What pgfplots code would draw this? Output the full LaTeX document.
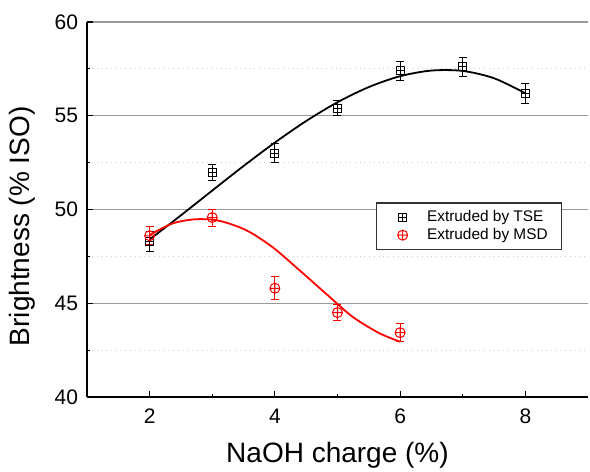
\documentclass[border=0pt]{standalone}
\usepackage{fontspec}
\setmainfont{Liberation Sans}
\usepackage{pgfplots}
\pgfplotsset{compat=1.18}
\usetikzlibrary{plotmarks}

% square with a plus inside
\pgfdeclareplotmark{boxplus}{%
  \pgfpathrectangle{\pgfpoint{-\pgfplotmarksize}{-\pgfplotmarksize}}{\pgfpoint{2\pgfplotmarksize}{2\pgfplotmarksize}}%
  \pgfpathmoveto{\pgfpoint{-\pgfplotmarksize}{0pt}}\pgfpathlineto{\pgfpoint{\pgfplotmarksize}{0pt}}%
  \pgfpathmoveto{\pgfpoint{0pt}{-\pgfplotmarksize}}\pgfpathlineto{\pgfpoint{0pt}{\pgfplotmarksize}}%
  \pgfusepathqstroke}

\begin{document}
\begin{tikzpicture}
\useasboundingbox (-43.5bp,-37.5bp) rectangle (251.5bp,198.5bp);
\begin{axis}[
  scale only axis, width=250.5bp, height=187.5bp,
  xmin=1, xmax=9, ymin=40, ymax=60,
  axis x line*=bottom, axis y line*=left,
  axis line style={line width=0.75bp, black},
  xtick={2,4,6,8}, minor xtick={3,5,7},
  ytick={40,45,50,55,60}, minor ytick={42.5,47.5,52.5,57.5},
  tick align=inside,
  major tick length=3bp, minor tick length=1.5bp,
  tick style={black, line width=0.6bp},
  ymajorgrids, yminorgrids,
  major grid style={gray!80, line width=0.6bp},
  minor grid style={gray!40, dotted, line width=0.5bp},
  /pgf/number format/assume math mode=true,
  tick label style={font=\fontsize{10.5bp}{12bp}\selectfont},
  yticklabel style={xshift=-1bp},
  xticklabel style={yshift=-2.5bp},
  xlabel={NaOH charge (\%)}, ylabel={Brightness (\% ISO)},
  label style={font=\fontsize{14bp}{16bp}\selectfont},
  xlabel style={at={([yshift=-29bp]axis description cs:0.5,0)}, anchor=center},
  ylabel style={at={([xshift=-32.5bp]axis description cs:0,0.455)}, anchor=center},
  legend style={at={(rel axis cs:0.577,0.519)}, anchor=north west,
    draw=black!80, line width=0.6bp, font=\fontsize{7.7bp}{9bp}\selectfont,
    inner xsep=5bp, inner ysep=2.8bp, row sep=0bp,
    nodes={inner ysep=0.9bp},
    /tikz/every odd column/.append style={column sep=2.2bp}},
  legend image code/.code={\path[draw=none] (0bp,0bp) -- (16bp,0bp);
    \draw[#1] plot[only marks] coordinates {(8bp,0bp)};},
  legend cell align=left,
]
% fitted curves
\addplot[black, line width=0.9bp, smooth, forget plot] coordinates {
  (2.0,48.40) (2.5,49.69) (3.0,51.01) (3.5,52.32) (4.0,53.57) (4.5,54.72)
  (5.0,55.72) (5.5,56.53) (6.0,57.11) (6.5,57.41) (7.0,57.39) (7.5,57.00) (8.0,56.20)};
\addplot[red, line width=0.9bp, smooth, forget plot] coordinates {
  (2.0,48.64) (2.37,49.26) (2.74,49.48) (3.11,49.4) (3.54,48.9) (3.96,48.0)
  (4.39,46.77) (4.81,45.53) (5.24,44.28) (5.67,43.4) (6.0,42.95)};
% measured points
\addplot[black, only marks, mark=boxplus, mark size=2bp, line width=0.5bp,
  error bars/.cd, y dir=both, y explicit, error mark options={rotate=90, mark size=2bp, line width=0.5bp}]
  coordinates {
  (2,48.3) +- (0,0.55)
  (3,51.96) +- (0,0.42)
  (4,53.0) +- (0,0.5)
  (5,55.4) +- (0,0.4)
  (6,57.4) +- (0,0.5)
  (7,57.6) +- (0,0.5)
  (8,56.2) +- (0,0.53)};
\addlegendentry{Extruded by TSE}
\addplot[red, only marks, mark=oplus, mark size=2.5bp, line width=0.5bp,
  error bars/.cd, y dir=both, y explicit, error mark options={rotate=90, mark size=2bp, line width=0.5bp}]
  coordinates {
  (2,48.6) +- (0,0.48)
  (3,49.57) +- (0,0.45)
  (4,45.8) +- (0,0.62)
  (5,44.5) +- (0,0.43)
  (6,43.43) +- (0,0.49)};
\addlegendentry{Extruded by MSD}
\end{axis}
\end{tikzpicture}
\end{document}
